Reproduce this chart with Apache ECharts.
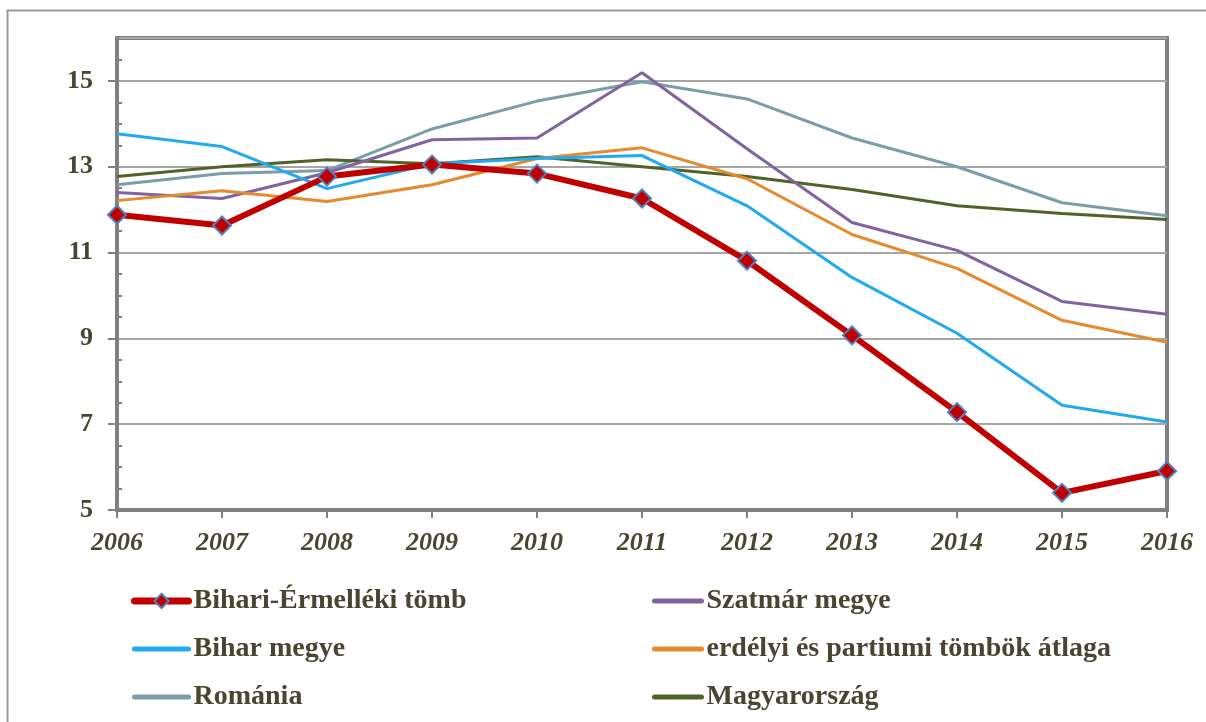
<!DOCTYPE html>
<html>
<head>
<meta charset="utf-8">
<script src="https://cdn.jsdelivr.net/npm/echarts@6/dist/echarts.min.js"></script>
<style>html,body{margin:0;padding:0;background:#fff}#c{width:1206px;height:722px}</style>
</head>
<body>
<div id="c"></div>
<script>
const years = ['2006','2007','2008','2009','2010','2011','2012','2013','2014','2015','2016'];
const bihariErmelleki = [11.88, 11.63, 12.77, 13.05, 12.84, 12.26, 10.81, 9.07, 7.28, 5.40, 5.91];
const szatmar = [12.40, 12.26, 12.86, 13.63, 13.67, 15.19, 13.42, 11.70, 11.05, 9.86, 9.56];
const bihar = [13.77, 13.47, 12.49, 13.07, 13.19, 13.26, 12.09, 10.42, 9.12, 7.44, 7.05];
const erdelyi = [12.21, 12.44, 12.19, 12.58, 13.19, 13.44, 12.72, 11.42, 10.63, 9.42, 8.91];
const romania = [12.58, 12.84, 12.91, 13.88, 14.53, 14.98, 14.58, 13.67, 13.00, 12.16, 11.86];
const magyarorszag = [12.77, 13.00, 13.16, 13.07, 13.23, 13.00, 12.77, 12.47, 12.09, 11.91, 11.77];

const txt = '#4a4530';
const font = '"Liberation Serif", "Times New Roman", serif';
const chart = echarts.init(document.getElementById('c'));
function line(name, data, color, width, z) {
  return {name, type:'line', data, symbol:'none', z,
    lineStyle:{color, width}, itemStyle:{color}, emphasis:{disabled:true}};
}
function legItem(name) {
  return {name, itemStyle:{opacity:0}, lineStyle:{width:5, cap:'round'}};
}
const legText = {color:txt, fontFamily:font, fontWeight:'bold', fontSize:28, lineHeight:28};
chart.setOption({
  animation:false,
  graphic:[{type:'rect', shape:{x:7.5,y:10.5,width:1300,height:800}, style:{fill:'none', stroke:'#9a9a9a', lineWidth:2}, z:-10}],
  grid:{left:117, right:39, top:38, bottom:212, show:true, borderColor:'#808080', borderWidth:4, backgroundColor:'transparent'},
  xAxis:{type:'category', data:years, boundaryGap:false,
    axisLine:{lineStyle:{color:'#808080', width:4}},
    axisTick:{show:true, alignWithLabel:true, length:8, lineStyle:{color:'#808080', width:2}},
    axisLabel:{color:txt, fontFamily:font, fontWeight:'bold', fontStyle:'italic', fontSize:26, margin:20},
    splitLine:{show:false}},
  yAxis:[
    {type:'value', min:5, max:16, interval:2, position:'left',
    axisLine:{show:true, lineStyle:{color:'#808080', width:4}},
    axisTick:{show:true, length:9, lineStyle:{color:'#808080', width:2}},
    axisLabel:{color:txt, fontFamily:font, fontWeight:'bold', fontSize:26, margin:24, showMaxLabel:false,
      formatter:v => (v===16?'':v)},
    splitLine:{show:true, lineStyle:{color:'#a6a6a6', width:2}}},
    {type:'value', min:5, max:16, interval:2, position:'left',
    axisLine:{show:false},
    axisTick:{show:false, inside:true},
    minorTick:{show:true, splitNumber:4, length:5, lineStyle:{color:'#808080', width:2}},
    axisLabel:{show:false},
    splitLine:{show:false}}
  ],
  legend:[
    {orient:'vertical', left:131, top:587, padding:0, itemWidth:54, itemHeight:18, itemGap:20,
     data:[{name:'Bihari-Érmelléki tömb', lineStyle:{width:7, cap:'round'}}, legItem('Bihar megye'), legItem('Románia')],
     textStyle:legText},
    {orient:'vertical', left:652, top:587, padding:0, itemWidth:47, itemHeight:18, itemGap:20,
     data:[legItem('Szatmár megye'), legItem('erdélyi és partiumi tömbök átlaga'), legItem('Magyarország')],
     textStyle:legText}
  ],
  series:[
    line('Románia', romania, '#7b9da8', 3, 2),
    line('Magyarország', magyarorszag, '#4f6228', 3, 2),
    line('Szatmár megye', szatmar, '#8064a2', 3, 3),
    line('erdélyi és partiumi tömbök átlaga', erdelyi, '#e48a2f', 3, 3),
    line('Bihar megye', bihar, '#22aaf0', 3, 4),
    {name:'Bihari-Érmelléki tömb', type:'line', data:bihariErmelleki, z:5,
     symbol:'diamond', symbolSize:18, showAllSymbol:true,
     lineStyle:{color:'#c00000', width:6},
     itemStyle:{color:'#c00000', borderColor:'#4f81bd', borderWidth:2},
     emphasis:{disabled:true}}
  ]
});
</script>
</body>
</html>
